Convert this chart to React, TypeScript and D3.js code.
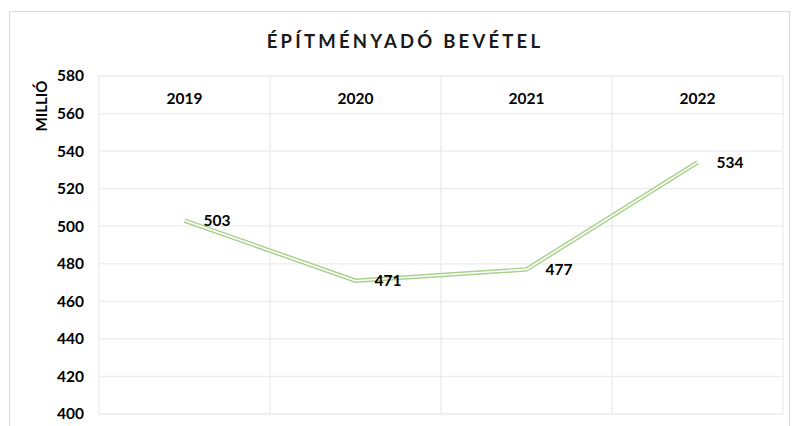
import { scaleLinear, scaleBand, line, range } from "d3";

const years = ["2019", "2020", "2021", "2022"];
const revenue = [503, 471, 477, 534];
const yTicks = [400, 420, 440, 460, 480, 500, 520, 540, 560, 580];

export default function App() {
  const width = 792;
  const height = 426;
  const plot = { left: 99, right: 783, top: 76, bottom: 414 };
  const font = "Lato, 'Open Sans', sans-serif";

  const x = scaleBand<string>().domain(years).range([plot.left, plot.right]);
  const y = scaleLinear().domain([400, 580]).range([plot.bottom, plot.top]);

  const cx = (d: string) => (x(d) ?? 0) + x.bandwidth() / 2;
  const path = line<number>()
    .x((_, i) => cx(years[i]))
    .y((v) => y(v))(revenue) ?? "";

  return (
    <svg
      width={width}
      height={height}
      style={{ position: "absolute", left: 0, top: 0, background: "white" }}
      fontFamily={font}
    >
      {/* chart frame */}
      <rect x={9.5} y={11.5} width={780} height={430} fill="white" stroke="#d9d9d9" />

      <text
        x={405}
        y={48}
        textAnchor="middle"
        fontSize={18.5}
        fontWeight="bold"
        letterSpacing={3.2}
        fill="#1a1a1a"
      >
        ÉPÍTMÉNYADÓ BEVÉTEL
      </text>

      <text
        transform={`translate(47,106) rotate(-90)`}
        textAnchor="middle"
        fontSize={15}
        fontWeight="bold"
        fill="#000"
      >
        MILLIÓ
      </text>

      {/* grid */}
      <g stroke="#ebebeb" strokeWidth={1.3}>
        {yTicks.map((t) => (
          <line key={t} x1={plot.left} x2={plot.right} y1={y(t)} y2={y(t)} />
        ))}
        {range(years.length + 1).map((i) => {
          const xv = i < years.length ? x(years[i]) ?? 0 : plot.right;
          return <line key={i} x1={xv} x2={xv} y1={plot.top} y2={plot.bottom} />;
        })}
      </g>

      <g fontSize={15.5} fontWeight="bold" fill="#000" textAnchor="end">
        {yTicks.map((t) => (
          <text key={t} x={84} y={y(t)} dy="0.35em">
            {t}
          </text>
        ))}
      </g>

      <g fontSize={15.5} fontWeight="bold" fill="#000" textAnchor="middle">
        {years.map((yr) => (
          <text key={yr} x={cx(yr)} y={99} dy="0.35em">
            {yr}
          </text>
        ))}
      </g>

      {/* double line */}
      <path d={path} fill="none" stroke="#a9d18e" strokeWidth={4.5} strokeLinejoin="miter" />
      <path d={path} fill="none" stroke="white" strokeWidth={1.6} strokeLinejoin="miter" />

      <g fontSize={15.5} fontWeight="bold" fill="#000">
        {revenue.map((v, i) => (
          <text key={i} x={cx(years[i]) + 19} y={y(v)} dy="0.35em">
            {v}
          </text>
        ))}
      </g>
    </svg>
  );
}
